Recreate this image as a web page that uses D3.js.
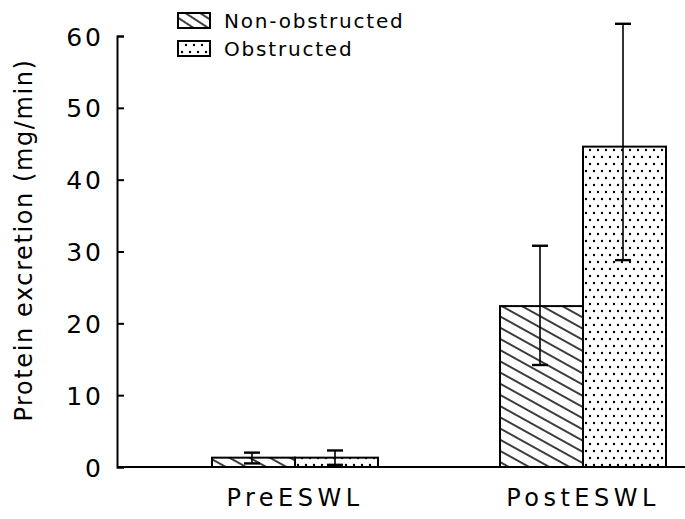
<!DOCTYPE html>
<html>
<head>
<meta charset="utf-8">
<script src="https://cdn.jsdelivr.net/npm/d3@7/dist/d3.min.js"></script>
<style>
html,body{margin:0;padding:0;background:#fff;}
svg{display:block;}
text{font-family:"DejaVu Sans",sans-serif;fill:#000;}
</style>
</head>
<body>
<svg id="chart" width="685" height="519"></svg>
<script>
// ---- data ----
const categories = ["PreESWL", "PostESWL"];
const seriesNames = ["Non-obstructed", "Obstructed"];
const nonObstructed = [1.3, 22.4];
const nonObstructedLow = [0.5, 14.2];
const nonObstructedHigh = [2.0, 30.8];
const obstructed = [1.3, 44.6];
const obstructedLow = [0.3, 28.8];
const obstructedHigh = [2.3, 61.7];
const yTicks = [0, 10, 20, 30, 40, 50, 60];
const yTitle = "Protein excretion (mg/min)";

const svg = d3.select("#chart");
const defs = svg.append("defs");

// hatch pattern
const hatch = defs.append("pattern").attr("id", "hatch")
  .attr("patternUnits", "userSpaceOnUse").attr("width", 20).attr("height", 9.8)
  .attr("patternTransform", "rotate(29)");
hatch.append("line").attr("x1", 0).attr("x2", 20).attr("y1", 4.9).attr("y2", 4.9)
  .attr("stroke", "#000").attr("stroke-width", 1.5);

const hatchL = defs.append("pattern").attr("id", "hatchL")
  .attr("patternUnits", "userSpaceOnUse").attr("width", 20).attr("height", 8)
  .attr("patternTransform", "translate(178,13) rotate(33)");
hatchL.append("line").attr("x1", 0).attr("x2", 20).attr("y1", 4).attr("y2", 4)
  .attr("stroke", "#000").attr("stroke-width", 1.5);

// dot pattern
const dots = defs.append("pattern").attr("id", "dots")
  .attr("patternUnits", "userSpaceOnUse").attr("width", 8).attr("height", 14);
dots.append("rect").attr("width", 8).attr("height", 14).attr("fill", "#fff");
[[2, 3], [6, 10]].forEach(([cx, cy]) =>
  dots.append("circle").attr("cx", cx).attr("cy", cy).attr("r", 1.2).attr("fill", "#000"));

// ---- scales ----
const y = d3.scaleLinear().domain([0, 60]).range([467, 36]);
const x0 = d3.scaleBand().domain(categories).range([151, 727]).paddingInner(0).paddingOuter(0);
const barW = 83;
const x1 = d3.scaleBand().domain(seriesNames).range([0, barW * 2]);
const xAxisX = 117;

// ---- y axis ----
const yAxis = d3.axisLeft(y).tickValues(yTicks).tickSize(-7).tickSizeOuter(-7).tickPadding(13);
const gy = svg.append("g").attr("transform", `translate(${xAxisX},0)`).call(yAxis);
gy.select(".domain").attr("stroke", "#000").attr("stroke-width", 2);
gy.selectAll(".tick line").attr("stroke", "#000").attr("stroke-width", 2);
gy.selectAll(".tick text").attr("font-size", 25).attr("letter-spacing", 3)
  .attr("font-family", "DejaVu Sans").attr("dy", "0.36em");

// y title
svg.append("text").attr("transform", `translate(32,240) rotate(-90)`)
  .attr("text-anchor", "middle").attr("font-size", 24).attr("letter-spacing", 1.6)
  .text(yTitle);

// ---- bars ----
const series = [
  { name: seriesNames[0], vals: nonObstructed, lo: nonObstructedLow, hi: nonObstructedHigh, fill: "url(#hatch)" },
  { name: seriesNames[1], vals: obstructed, lo: obstructedLow, hi: obstructedHigh, fill: "url(#dots)" }
];
const barData = [];
categories.forEach((c, i) => series.forEach(s => barData.push({
  cat: c, name: s.name, v: s.vals[i], lo: s.lo[i], hi: s.hi[i], fill: s.fill
})));

const bx = d => x0(d.cat) + x0.bandwidth() / 2 - barW + x1(d.name);

svg.append("g").selectAll("rect").data(barData).join("rect")
  .attr("x", bx).attr("width", barW)
  .attr("y", d => y(d.v)).attr("height", d => y(0) - y(d.v))
  .attr("fill", d => d.fill).attr("stroke", "#000").attr("stroke-width", 2);

// baseline
svg.append("line").attr("x1", xAxisX).attr("x2", 685).attr("y1", y(0)).attr("y2", y(0))
  .attr("stroke", "#000").attr("stroke-width", 2);

// error bars
const eb = svg.append("g").selectAll("g").data(barData).join("g");
eb.append("line").attr("x1", d => bx(d) + barW / 2 - 1.5).attr("x2", d => bx(d) + barW / 2 - 1.5)
  .attr("y1", d => y(d.lo)).attr("y2", d => y(d.hi)).attr("stroke", "#000").attr("stroke-width", 1.6);
eb.append("line").attr("x1", d => bx(d) + barW / 2 - 9.5).attr("x2", d => bx(d) + barW / 2 + 6.5)
  .attr("y1", d => y(d.hi)).attr("y2", d => y(d.hi)).attr("stroke", "#000").attr("stroke-width", 2.4);
eb.append("line").attr("x1", d => bx(d) + barW / 2 - 9.5).attr("x2", d => bx(d) + barW / 2 + 6.5)
  .attr("y1", d => y(d.lo)).attr("y2", d => y(d.lo)).attr("stroke", "#000").attr("stroke-width", 2.4);

// x category labels
svg.append("g").selectAll("text").data(categories).join("text")
  .attr("x", d => x0(d) + x0.bandwidth() / 2).attr("y", 506)
  .attr("text-anchor", "middle").attr("font-size", 24).attr("letter-spacing", 4.5)
  .text(d => d);

// ---- legend ----
const legend = svg.append("g");
const legFills = ["url(#hatchL)", "url(#dots)"];
seriesNames.forEach((n, i) => {
  const ly = 13 + i * 28;
  legend.append("rect").attr("x", 178).attr("y", ly).attr("width", 32).attr("height", 15)
    .attr("fill", legFills[i]).attr("stroke", "#000").attr("stroke-width", 2);
  legend.append("text").attr("x", 224).attr("y", ly + 14.5)
    .attr("font-size", 20).attr("letter-spacing", 1.8).text(n);
});
</script>
</body>
</html>
